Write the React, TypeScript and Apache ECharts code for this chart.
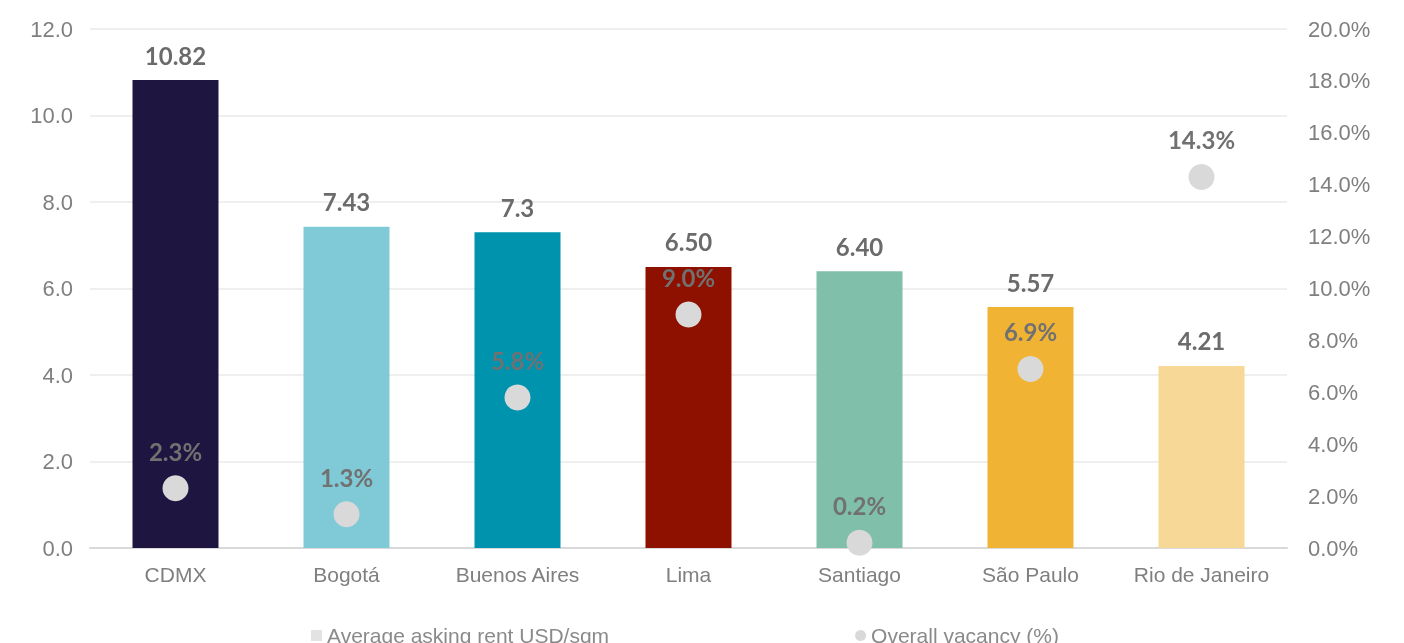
import React, { useEffect, useRef } from "react";
import * as echarts from "echarts";

const categories = ["CDMX", "Bogotá", "Buenos Aires", "Lima", "Santiago", "São Paulo", "Rio de Janeiro"];
const rentValues = [10.82, 7.43, 7.3, 6.5, 6.4, 5.57, 4.21];
const rentLabels = ["10.82", "7.43", "7.3", "6.50", "6.40", "5.57", "4.21"];
const barColors = ["#1e1640", "#80c9d6", "#0093ae", "#8e1100", "#80bfaa", "#f0b333", "#f7d896"];
const vacancyValues = [2.3, 1.3, 5.8, 9.0, 0.2, 6.9, 14.3];
const leftTicks = { min: 0, max: 12, interval: 2 };
const rightTicks = { min: 0, max: 20, interval: 2 };

const axisFont = "Liberation Sans, Arial, sans-serif";
const boldFont = "Lato, sans-serif";

export default function App() {
  const ref = useRef<HTMLDivElement>(null);
  useEffect(() => {
    if (!ref.current) return;
    const chart = echarts.init(ref.current, null, { renderer: "svg" });
    chart.setOption({
      animation: false,
      grid: { left: 90, right: 117, top: 29, bottom: 95 },
      legend: {
        left: 306,
        top: 620,
        itemGap: 246,
        itemWidth: 11,
        itemHeight: 11,
        textStyle: { color: "#8a8a8a", fontSize: 21, fontFamily: axisFont },
        data: [
          { name: "Average asking rent USD/sqm", icon: "rect" },
          { name: "Overall vacancy (%)", icon: "circle" },
        ],
      },
      xAxis: {
        type: "category",
        data: categories,
        axisTick: { show: false },
        axisLine: { lineStyle: { color: "#d9d9d9", width: 2 } },
        axisLabel: { color: "#7f7f7f", fontSize: 21, fontFamily: axisFont, margin: 16, interval: 0 },
      },
      yAxis: [
        {
          type: "value",
          ...leftTicks,
          axisLabel: {
            color: "#7f7f7f",
            fontSize: 22,
            fontFamily: axisFont,
            margin: 17,
            formatter: (v: number) => v.toFixed(1),
          },
          axisLine: { show: false },
          axisTick: { show: false },
          splitLine: { lineStyle: { color: "#efefef", width: 2 } },
        },
        {
          type: "value",
          ...rightTicks,
          position: "right",
          axisLabel: {
            color: "#7f7f7f",
            fontSize: 22,
            fontFamily: axisFont,
            margin: 21,
            align: "left",
            formatter: (v: number) => v.toFixed(1) + "%",
          },
          axisLine: { show: false },
          axisTick: { show: false },
          splitLine: { show: false },
        },
      ],
      series: [
        {
          name: "Average asking rent USD/sqm",
          type: "bar",
          yAxisIndex: 0,
          barWidth: 86,
          itemStyle: { color: "#e3e3e3" },
          data: rentValues.map((v, i) => ({ value: v, itemStyle: { color: barColors[i] } })),
          label: {
            show: true,
            position: "top",
            distance: 13,
            color: "#6b6b6b",
            fontSize: 24,
            fontWeight: "bold",
            fontFamily: boldFont,
            formatter: (p: any) => rentLabels[p.dataIndex],
          },
          z: 2,
        },
        {
          name: "Overall vacancy (%)",
          type: "scatter",
          yAxisIndex: 1,
          symbol: "circle",
          symbolSize: 26,
          itemStyle: { color: "#d9d9d9", opacity: 1 },
          data: vacancyValues,
          label: {
            show: true,
            position: "top",
            distance: 12,
            color: "#717171",
            fontSize: 24,
            fontWeight: "bold",
            fontFamily: boldFont,
            formatter: (p: any) => Number(p.value).toFixed(1) + "%",
          },
          z: 3,
        },
      ],
    });
    return () => chart.dispose();
  }, []);
  return (
    <div
      ref={ref}
      style={{ position: "fixed", left: 0, top: 0, width: 1404, height: 643 }}
    />
  );
}
